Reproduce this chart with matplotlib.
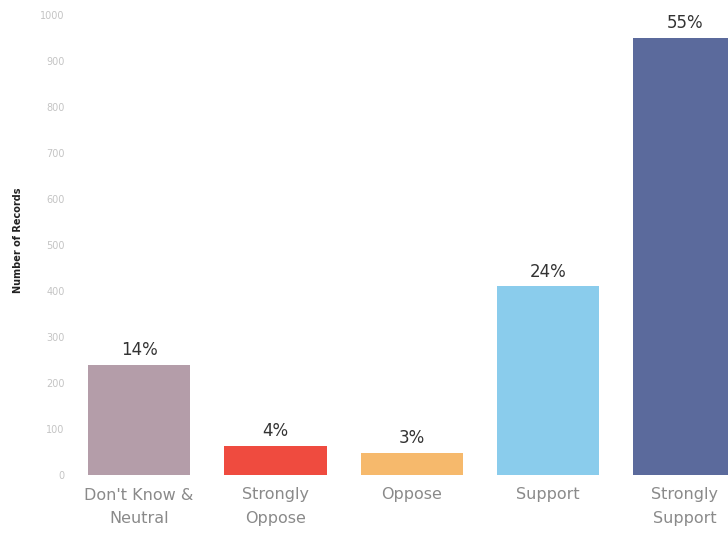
import numpy as np
import matplotlib
matplotlib.use("Agg")
import matplotlib.pyplot as plt

# Survey responses: number of records per answer
categories = ["Don't Know &\nNeutral", "Strongly\nOppose", "Oppose", "Support", "Strongly\nSupport"]
counts = [240, 64, 48, 410, 950]
colors = ["#b49da9", "#ef4b3f", "#f6b96c", "#8accec", "#5b6a9c"]
y_ticks = [0, 100, 200, 300, 400, 500, 600, 700, 800, 900, 1000]

total = sum(counts)
pct_labels = ["{:.0f}%".format(100 * c / total) for c in counts]

fig = plt.figure(figsize=(7.28, 5.34), dpi=100)
ax = fig.add_axes([70 / 728, 59 / 534, 658 / 728, 460 / 534])

x = np.arange(len(categories))
bars = ax.bar(x, counts, width=0.75, color=colors)

for b, lab in zip(bars, pct_labels):
    ax.text(b.get_x() + b.get_width() / 2, b.get_height() + 12, lab,
            ha="center", va="bottom", fontsize=12, color="#333333")

ax.set_xlim(-0.506, 4.318)
ax.set_ylim(0, 1000)
ax.set_yticks(y_ticks)
ax.set_yticklabels([str(t) for t in y_ticks], fontsize=7, color="#c4c4c4")
ax.set_xticks(x)
ax.set_xticklabels(categories, fontsize=11.5, color="#8a8a8a", linespacing=1.7)
ax.tick_params(length=0)
ax.tick_params(axis="y", pad=4)
ax.tick_params(axis="x", pad=9)
for s in ax.spines.values():
    s.set_visible(False)

fig.text(18 / 728, 1 - 240 / 534, "Number of Records", rotation=90,
         ha="center", va="center", fontsize=7, fontweight="bold", color="#222222")

fig.savefig("out.png", dpi=100)
